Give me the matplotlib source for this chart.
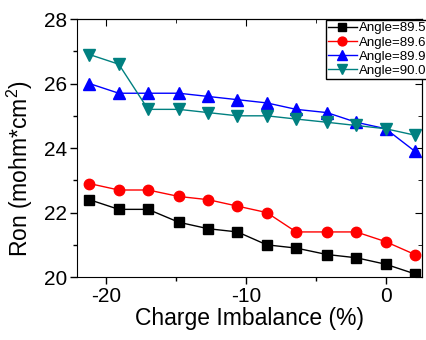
import matplotlib
matplotlib.use("Agg")
import matplotlib.pyplot as plt
from matplotlib.ticker import MultipleLocator

plt.rcParams['font.family'] = ['Liberation Sans', 'DejaVu Sans']
plt.rcParams['axes.unicode_minus'] = False
plt.rcParams['mathtext.fontset'] = 'custom'
plt.rcParams['mathtext.rm'] = 'Liberation Sans'

# charge imbalance (%)
x = [-21.2, -19.1, -17.0, -14.8, -12.7, -10.6, -8.5, -6.4, -4.2, -2.1, 0.0, 2.1]

ron_895 = [22.4, 22.1, 22.1, 21.7, 21.5, 21.4, 21.0, 20.9, 20.7, 20.6, 20.4, 20.1]
ron_896 = [22.9, 22.7, 22.7, 22.5, 22.4, 22.2, 22.0, 21.4, 21.4, 21.4, 21.1, 20.7]
ron_899 = [26.0, 25.7, 25.7, 25.7, 25.6, 25.5, 25.4, 25.2, 25.1, 24.8, 24.6, 23.9]
ron_900 = [26.9, 26.6, 25.2, 25.2, 25.1, 25.0, 25.0, 24.9, 24.8, 24.7, 24.6, 24.4]

labels = ["Angle=89.5", "Angle=89.6", "Angle=89.9", "Angle=90.0"]

fig = plt.figure(figsize=(4.27, 3.40), dpi=100)
ax = fig.add_axes([0.180, 0.185, 0.808, 0.759])

ax.plot(x, ron_895, color='black', marker='s', ms=6.5, lw=1, label=labels[0])
ax.plot(x, ron_896, color='red', marker='o', ms=7.5, lw=1, label=labels[1])
ax.plot(x, ron_899, color='blue', marker='^', ms=8, lw=1, label=labels[2])
ax.plot(x, ron_900, color='#008080', marker='v', ms=8, lw=1, label=labels[3])

ax.set_xlim(-22.1, 2.6)
ax.set_ylim(20, 28)
ax.xaxis.set_major_locator(MultipleLocator(10))
ax.xaxis.set_minor_locator(MultipleLocator(5))
ax.yaxis.set_major_locator(MultipleLocator(2))
ax.yaxis.set_minor_locator(MultipleLocator(1))
ax.tick_params(which='both', direction='out', top=False, right=False,
               labelsize=15, pad=2)
ax.tick_params(which='major', length=5, width=1)
ax.tick_params(which='minor', length=3, width=1)

# inward ticks on top and right spines
ax2 = ax.secondary_xaxis('top')
ax2.xaxis.set_major_locator(MultipleLocator(10))
ax2.xaxis.set_minor_locator(MultipleLocator(5))
ax2.tick_params(which='both', direction='in', labeltop=False)
ax2.tick_params(which='major', length=5)
ax2.tick_params(which='minor', length=3)
ax3 = ax.secondary_yaxis('right')
ax3.yaxis.set_major_locator(MultipleLocator(2))
ax3.yaxis.set_minor_locator(MultipleLocator(1))
ax3.tick_params(which='both', direction='in', labelright=False)
ax3.tick_params(which='major', length=5)
ax3.tick_params(which='minor', length=3)

ax.set_xlabel("Charge Imbalance (%)", fontsize=16.5, labelpad=1)
ax.set_ylabel("Ron (mohm*cm$^2$)", fontsize=16.5)
ax.yaxis.set_label_coords(-0.12, 0.42)

leg = ax.legend(loc='upper left', bbox_to_anchor=(0.722, 0.996), fontsize=9.5,
                frameon=True, fancybox=False, edgecolor='black', borderpad=0.15,
                labelspacing=0.15, handlelength=2.2, handletextpad=0.15,
                borderaxespad=0, markerscale=0.85, framealpha=1)
leg.get_frame().set_linewidth(1)

fig.savefig("out.png", dpi=100)
